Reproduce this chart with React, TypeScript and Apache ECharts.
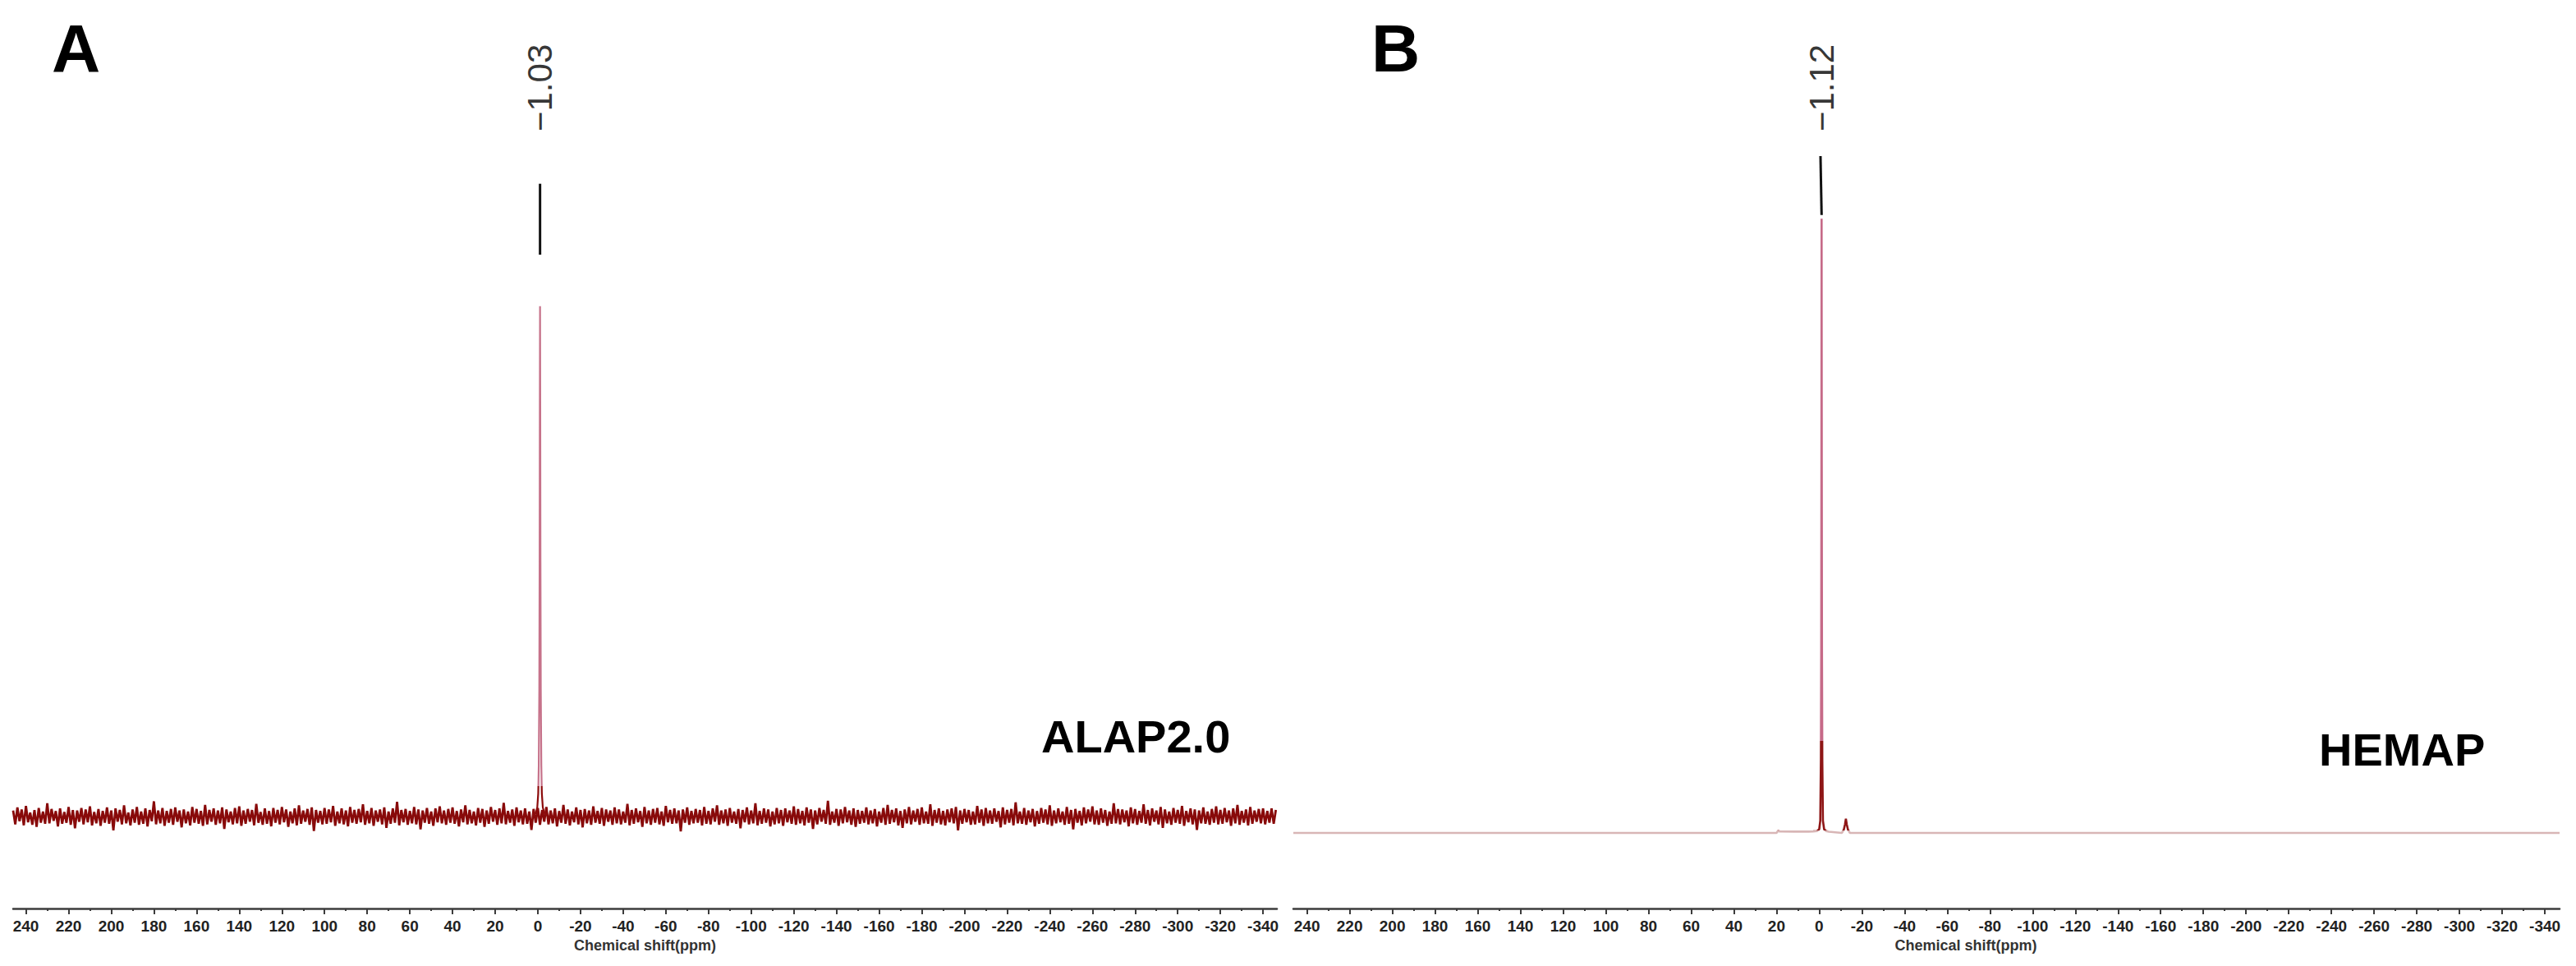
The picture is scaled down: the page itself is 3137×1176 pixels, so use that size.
import React, { useEffect, useRef } from "react";
import * as echarts from "echarts";

const W = 3137;
const H = 1176;

// ---------- axis ticks (ppm) ----------
const ppmMajorTicks = [240, 220, 200, 180, 160, 140, 120, 100, 80, 60, 40, 20, 0, -20, -40, -60, -80, -100, -120, -140, -160, -180, -200, -220, -240, -260, -280, -300, -320, -340];
const ppmMinorTicks = [230, 210, 190, 170, 150, 130, 110, 90, 70, 50, 30, 10, -10, -30, -50, -70, -90, -110, -130, -150, -170, -190, -210, -230, -250, -270, -290, -310, -330];

// ---------- panel A : ALAP2.0 ----------
const rangeA = { max: 246.0, min: -346.5 };
const noiseAStartPpm = 246;
const noiseAStepPpm = -1;
const noiseA = [
  1.2, -1.5, 1.8, -0.9, 1.4, -1.7, 2.1, -1.1, 0.8, -1.6, 1.3, -2.0, 1.7, -1.2, 1.0, -1.4, 2.6, -1.3, 1.5, -0.8, 1.1, -1.9, 1.6, -1.4, 0.9, -1.2, 1.9, -1.6, 1.3, -2.3, 1.2, -1.0, 1.7, -1.5, 1.4, -1.1, 2.0, -1.7, 0.9, -1.3,
  1.5, -1.8, 1.1, -1.2, 1.8, -1.4, 1.2, -2.7, 1.6, -1.0, 1.3, -1.5, 2.2, -1.3, 0.8, -1.7, 1.4, -1.2, 1.9, -1.6, 1.0, -1.4, 1.6, -1.9, 1.3, -0.9, 3.0, -1.5, 1.2, -1.3, 1.7, -1.8, 1.1, -1.2, 1.5, -1.6, 1.8, -1.0, 1.2, -2.1,
  1.4, -1.3, 1.0, -1.7, 1.9, -1.2, 1.5, -1.4, 1.1, -1.8, 2.3, -1.5, 1.3, -1.0, 1.6, -1.6, 1.2, -1.3, 1.8, -2.4, 1.4, -1.1, 1.0, -1.5, 1.7, -1.3, 2.0, -1.8, 1.2, -1.4, 1.5, -1.0, 1.3, -1.7, 2.5, -1.2, 0.9, -1.6, 1.6, -1.4,
  1.1, -1.9, 1.7, -1.2, 1.3, -1.5, 1.9, -1.1, 1.4, -2.0, 1.0, -1.3, 1.6, -1.7, 2.2, -1.4, 1.2, -1.0, 1.5, -1.6, 1.8, -2.8, 1.3, -1.2, 1.1, -1.5, 1.7, -1.4, 1.4, -1.1, 2.1, -1.8, 1.0, -1.3, 1.6, -1.5, 1.2, -1.9, 1.9, -1.2,
  1.3, -1.4, 1.5, -1.1, 2.4, -1.6, 1.1, -1.3, 1.7, -1.8, 1.2, -1.0, 1.4, -1.5, 1.8, -2.2, 1.0, -1.4, 1.6, -1.2, 2.9, -1.7, 1.3, -1.1, 1.5, -1.6, 1.1, -1.3, 1.9, -1.5, 1.4, -2.5, 1.2, -1.2, 1.7, -1.4, 1.0, -1.8, 1.6, -1.1,
  2.0, -1.3, 1.2, -1.6, 1.5, -1.2, 1.8, -1.4, 1.1, -1.9, 1.4, -1.1, 2.2, -1.5, 1.3, -1.3, 1.0, -1.7, 1.7, -1.2, 1.5, -2.0, 1.2, -1.4, 1.9, -1.0, 1.3, -1.6, 1.6, -1.3, 2.7, -1.5, 1.1, -1.2, 1.4, -1.8, 1.8, -1.1, 1.2, -1.5,
  1.6, -1.4, 1.0, -2.6, 1.5, -1.2, 1.7, -1.6, 1.3, -1.0, 1.9, -1.5, 1.2, -1.3, 1.6, -1.9, 1.1, -1.2, 2.3, -1.4, 1.4, -1.7, 1.0, -1.1, 1.8, -1.5, 1.3, -2.1, 1.5, -1.3, 1.2, -1.6, 2.0, -1.2, 1.1, -1.4, 1.7, -1.8, 1.4, -1.0,
  1.2, -1.6, 1.8, -1.3, 1.4, -1.5, 1.0, -1.2, 2.5, -1.7, 1.3, -1.4, 1.6, -1.1, 1.1, -2.0, 1.9, -1.3, 1.2, -1.6, 1.5, -1.2, 1.7, -1.5, 1.0, -1.8, 2.1, -1.1, 1.3, -1.4, 1.6, -1.3, 1.2, -2.9, 1.4, -1.2, 1.8, -1.6, 1.1, -1.3,
  1.5, -1.2, 1.3, -1.7, 1.9, -1.4, 1.1, -1.5, 1.6, -1.0, 2.2, -1.6, 1.2, -1.3, 1.4, -1.8, 1.7, -1.2, 1.0, -1.4, 1.5, -2.3, 1.3, -1.1, 1.8, -1.5, 1.2, -1.3, 2.6, -1.7, 1.1, -1.4, 1.6, -1.2, 1.4, -1.9, 1.0, -1.5, 1.7, -1.3,
  1.3, -1.8, 1.6, -1.1, 1.2, -1.4, 2.0, -1.6, 1.5, -1.3, 1.1, -1.7, 1.8, -1.2, 1.4, -2.4, 1.2, -1.5, 1.7, -1.0, 1.3, -1.4, 3.1, -1.6, 1.0, -1.2, 1.5, -1.8, 1.4, -1.3, 1.9, -1.1, 1.2, -1.6, 1.6, -2.0, 1.3, -1.4, 1.1, -1.2,
  1.8, -1.5, 1.2, -1.3, 1.5, -1.9, 1.0, -1.2, 1.7, -1.6, 2.3, -1.4, 1.3, -1.1, 1.6, -1.7, 1.1, -2.2, 1.4, -1.3, 1.9, -1.5, 1.2, -1.0, 1.5, -1.6, 1.8, -1.3, 1.0, -1.4, 2.4, -1.8, 1.3, -1.2, 1.6, -1.5, 1.1, -1.7, 1.4, -1.1,
  1.6, -1.3, 1.9, -2.7, 1.2, -1.4, 1.5, -1.1, 1.3, -1.6, 1.0, -1.5, 2.1, -1.2, 1.4, -1.8, 1.7, -1.3, 1.2, -1.4, 1.6, -1.0, 1.1, -2.1, 1.8, -1.5, 1.3, -1.2, 1.5, -1.7, 2.8, -1.3, 1.0, -1.4, 1.7, -1.6, 1.2, -1.1, 1.5, -1.9,
  1.1, -1.4, 1.7, -1.2, 1.4, -1.5, 2.2, -1.8, 1.2, -1.3, 1.6, -1.1, 1.0, -1.6, 1.9, -1.4, 1.3, -2.5, 1.5, -1.2, 1.1, -1.7, 1.8, -1.3, 1.4, -1.0, 2.0, -1.5, 1.2, -1.6, 1.6, -1.2, 1.3, -1.8, 1.0, -1.4, 2.6, -1.3, 1.5, -1.5,
  1.4, -1.1, 1.2, -1.9, 1.8, -1.3, 1.5, -1.6, 1.1, -1.2, 2.4, -1.4, 1.3, -1.7, 1.6, -1.0, 1.2, -1.5, 1.9, -2.2, 1.4, -1.3, 1.0, -1.6, 1.7, -1.2, 1.3, -1.4, 2.1, -1.8, 1.1, -1.1, 1.6, -1.5, 1.4, -2.6, 1.2, -1.3, 1.8, -1.4,
  1.0, -1.6, 1.5, -1.2, 2.0, -1.5, 1.3, -1.4, 1.7, -1.1, 1.2, -1.8, 1.6, -1.3, 2.3, -1.6, 1.1, -1.2, 1.4, -1.7, 1.9, -1.4, 1.2, -1.0, 1.5, -1.3, 1.6, -1.5, 1.1, -1.2, 1.6, -1.4, 1.3,
];
const peakAPpm = [2.47, 0.97, 0.27, -0.18, -0.43, -0.68, -0.83, -0.93, -1.03, -1.13, -1.23, -1.38, -1.63, -1.88, -2.33, -3.03, -4.53];
const peakAInt = [0.2, 0.7, 1.8, 4.5, 10, 25, 50, 80, 100, 80, 50, 25, 10, 4.5, 1.8, 0.7, 0.2];
const labelA = { ppm: -1.03, text: "\u22121.03", leader: [110.1, 124.0], textAt: 142.8 };

// ---------- panel B : HEMAP ----------
const rangeB = { max: 246.4, min: -346.9 };
const spectrumBPpm = [246.4, 20.0, 19.4, 18.6, 12.0, 5.0, 2.8, 1.0, 0.0, -0.5, -0.8, -0.95, -1.04, -1.12, -1.2, -1.29, -1.44, -1.74, -2.3, -3.2, -4.5, -10.6, -11.5, -12.1, -12.5, -12.9, -13.5, -14.4, -346.9];
const spectrumBInt = [0, 0, 0.3, 0.25, 0.22, 0.22, 0.25, 0.3, 0.6, 2.0, 12, 30, 60, 100, 60, 30, 12, 2.0, 0.6, 0.3, 0.2, 0, 0.5, 1.4, 2.3, 1.4, 0.5, 0, 0];
const labelB = { ppmTop: -0.6, ppm: -1.12, text: "\u22121.12", leader: [100.6, 110.2], textAt: 121.3 };

const FONT = "'Liberation Sans', Arial, Helvetica, sans-serif";
const AXIS_COLOR = "#3c3c3c";

function axesFor(gridIndex: number, range: { min: number; max: number }, namePad: number) {
  const common = {
    type: "value",
    gridIndex,
    position: "bottom",
    inverse: true,
    min: range.min,
    max: range.max,
    splitLine: { show: false },
  };
  return [
    {
      ...common,
      name: "Chemical shift(ppm)",
      nameLocation: "middle",
      nameGap: 34,
      nameTextStyle: { fontFamily: FONT, fontWeight: "bold", fontSize: 18, color: "#333", padding: [0, 0, 0, namePad] },
      axisLine: { show: true, onZero: false, lineStyle: { color: AXIS_COLOR, width: 2.5 } },
      axisTick: { show: true, customValues: ppmMajorTicks, length: 7, inside: false, lineStyle: { color: AXIS_COLOR, width: 2 } },
      axisLabel: { show: true, customValues: ppmMajorTicks, margin: 12, fontFamily: FONT, fontWeight: "bold", fontSize: 19, color: "#222" },
    },
    {
      ...common,
      axisLine: { show: false, onZero: false },
      axisTick: { show: true, customValues: ppmMinorTicks, length: 3, inside: false, lineStyle: { color: AXIS_COLOR, width: 2 } },
      axisLabel: { show: false },
    },
  ];
}

function buildOption() {
  const noiseAData = noiseA.map((v, i) => [noiseAStartPpm + i * noiseAStepPpm, v]);
  const peakAData = peakAPpm.map((p, i) => [p, peakAInt[i]]);
  const specBData = spectrumBPpm.map((p, i) => [p, spectrumBInt[i]]);

  const textLabel = (fs: number) => ({
    show: true,
    position: "inside",
    rotate: 90,
    fontFamily: FONT,
    fontSize: fs,
    color: "#000",
  });

  return {
    animation: false,
    backgroundColor: "#ffffff",
    grid: [
      { left: 16, top: 0, width: 1539, bottom: 70, outerBoundsMode: "none" },
      { left: 1575, top: 0, width: 1542, bottom: 70, outerBoundsMode: "none" },
    ],
    xAxis: [...axesFor(0, rangeA, 0), ...axesFor(1, rangeB, 96)],
    yAxis: [
      { type: "value", gridIndex: 0, min: -18, max: 160, show: false, splitLine: { show: false } },
      { type: "value", gridIndex: 1, min: -12.3, max: 135.6, show: false, splitLine: { show: false } },
    ],
    visualMap: [
      {
        type: "piecewise",
        show: false,
        seriesIndex: 1,
        dimension: 1,
        pieces: [
          { min: -50, max: 6, color: "#8c0c0c" },
          { min: 6, max: 500, color: "#c6728a" },
        ],
      },
      {
        type: "piecewise",
        show: false,
        seriesIndex: 4,
        dimension: 1,
        pieces: [
          { min: -50, max: 0.45, color: "#d8b6b6" },
          { min: 0.45, max: 15, color: "#8e1616" },
          { min: 15, max: 500, color: "#c66a88" },
        ],
      },
    ],
    series: [
      {
        name: "ALAP2.0 noise",
        type: "line",
        xAxisIndex: 0,
        yAxisIndex: 0,
        data: noiseAData,
        showSymbol: false,
        lineStyle: { color: "#880a0a", width: 2.8 },
        z: 2,
      },
      {
        name: "ALAP2.0 peak",
        type: "line",
        xAxisIndex: 0,
        yAxisIndex: 0,
        data: peakAData,
        showSymbol: false,
        lineStyle: { width: 2.2 },
        z: 3,
      },
      {
        name: "ALAP2.0 leader",
        type: "line",
        xAxisIndex: 0,
        yAxisIndex: 0,
        data: [
          [labelA.ppm, labelA.leader[0]],
          [labelA.ppm, labelA.leader[1]],
        ],
        showSymbol: false,
        lineStyle: { color: "#111", width: 3 },
        z: 4,
      },
      {
        name: "ALAP2.0 label",
        type: "scatter",
        xAxisIndex: 0,
        yAxisIndex: 0,
        data: [[labelA.ppm, labelA.textAt]],
        symbolSize: 1,
        itemStyle: { color: "rgba(0,0,0,0)" },
        label: { ...textLabel(42), formatter: labelA.text },
        z: 5,
      },
      {
        name: "HEMAP",
        type: "line",
        xAxisIndex: 2,
        yAxisIndex: 1,
        data: specBData,
        showSymbol: false,
        lineStyle: { width: 2.6 },
        z: 3,
      },
      {
        name: "HEMAP leader",
        type: "line",
        xAxisIndex: 2,
        yAxisIndex: 1,
        data: [
          [labelB.ppm, labelB.leader[0]],
          [labelB.ppmTop, labelB.leader[1]],
        ],
        showSymbol: false,
        lineStyle: { color: "#111", width: 3 },
        z: 4,
      },
      {
        name: "HEMAP label",
        type: "scatter",
        xAxisIndex: 2,
        yAxisIndex: 1,
        data: [[labelB.ppm, labelB.textAt]],
        symbolSize: 1,
        itemStyle: { color: "rgba(0,0,0,0)" },
        label: { ...textLabel(42), formatter: labelB.text },
        z: 5,
      },
    ],
    graphic: [
      { type: "text", x: 63, y: 58, style: { text: "A", fontFamily: FONT, fontWeight: "bold", fontSize: 82, fill: "#000", align: "left", verticalAlign: "middle" } },
      { type: "text", x: 1670, y: 58, style: { text: "B", fontFamily: FONT, fontWeight: "bold", fontSize: 82, fill: "#000", align: "left", verticalAlign: "middle" } },
      { type: "text", x: 1268, y: 896, style: { text: "ALAP2.0", fontFamily: FONT, fontWeight: "bold", fontSize: 56, fill: "#000", align: "left", verticalAlign: "middle" } },
      { type: "text", x: 2824, y: 912, style: { text: "HEMAP", fontFamily: FONT, fontWeight: "bold", fontSize: 56, fill: "#000", align: "left", verticalAlign: "middle" } },
    ],
  };
}

export default function App() {
  const ref = useRef<HTMLDivElement>(null);
  useEffect(() => {
    document.body.style.margin = "0";
    if (!ref.current) return;
    const chart = echarts.init(ref.current, null, { renderer: "svg", width: W, height: H });
    chart.setOption(buildOption() as any);
    return () => chart.dispose();
  }, []);
  return <div ref={ref} style={{ width: W, height: H, background: "#fff" }} />;
}
